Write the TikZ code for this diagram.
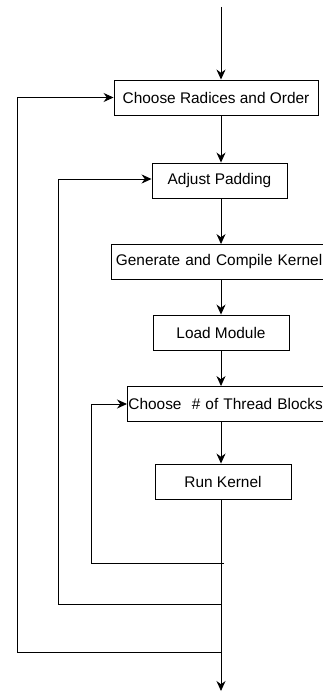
\documentclass[tikz,border=0pt]{standalone}
\usepackage{fontspec}
\setmainfont{Liberation Sans}
\usepackage{tikz}
\usetikzlibrary{arrows.meta,positioning}

\tikzset{
  stepbox/.style={draw, line width=0.9pt, minimum height=35pt, inner xsep=4pt},
  flow/.style={line width=0.9pt, -{Stealth[length=10pt, width=9pt]}}
}

\begin{document}
\begin{tikzpicture}[x=1pt, y=-1pt, every node/.style={font=\fontsize{15.4}{18}\selectfont}]
    \useasboundingbox (0,0) rectangle (323,693);
    \clip (0,0) rectangle (323,693);

    \node[stepbox, minimum width=204pt] (radix) at (216,97.5) {Choose Radices and Order};
    \node[stepbox, minimum width=135pt] (pad) at (219.5,180.5) {Adjust Padding};
    \node[stepbox, anchor=west, inner xsep=4.5pt, align=left, text width=212pt] (gen) at (111,262) {Generate and Compile Kernel};
    \node[stepbox, minimum width=136pt] (load) at (221,332.5) {Load Module};
    \node[stepbox, anchor=west, inner xsep=1pt, align=left, text width=210pt] (blocks) at (127,404) {Choose\ \ \# of Thread Blocks};
    \node[stepbox, minimum width=136pt] (run) at (223,481.5) {Run Kernel};

    \coordinate (start) at (221,7);
    \coordinate (finish) at (221,691);
    \coordinate (innerR) at (224,563);
    \coordinate (innerL) at (91,563);
    \coordinate (midR) at (221,604);
    \coordinate (midL) at (58,604);
    \coordinate (outR) at (221,652);
    \coordinate (outL) at (17,652);

    % main chain
    \draw[flow] (start) -- (radix.north -| start);
    \draw[flow] (radix.south -| start) -- (pad.north -| start);
    \draw[flow] (pad.south -| start) -- (gen.north -| start);
    \draw[flow] (gen.south -| start) -- (load.north -| start);
    \draw[flow] (load.south -| start) -- (blocks.north -| start);
    \draw[flow] (blocks.south -| start) -- (run.north -| start);
    \draw[flow] (run.south -| start) -- (finish);

    % feedback loops
    \draw[flow] (innerR) -- (innerL) |- (blocks.west);
    \draw[flow] (midR) -- (midL) |- ([yshift=1.5pt]pad.west);
    \draw[flow] (outR) -- (outL) |- (radix.west);
\end{tikzpicture}
\end{document}
